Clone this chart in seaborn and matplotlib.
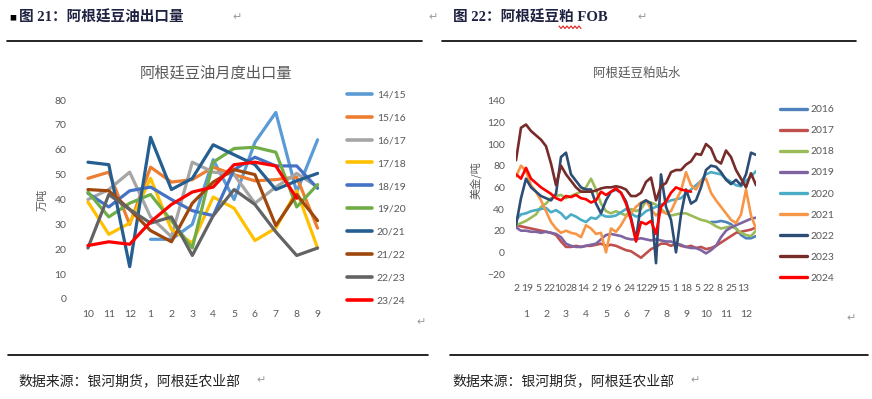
import numpy as np
import pandas as pd
import matplotlib
matplotlib.use("Agg")
import matplotlib.pyplot as plt
import seaborn as sns
from matplotlib.lines import Line2D

# ---------------- data: left chart (monthly export volume, 万吨) ----------------
months_left = ["10", "11", "12", "1", "2", "3", "4", "5", "6", "7", "8", "9"]
nan = np.nan
s1415 = [nan, nan, nan, 24, 24, 30, 56, 40, 63, 75, 43, 64]
s1516 = [48.5, 51, 30, 53, 47, 48, 53, 50, 47.5, 48, 49, 28.5]
s1617 = [40, 44, 51, 33, 25, 55, 51, 50, 38.5, 45, 50.5, 45]
s1718 = [39, 26, 30.5, 48.5, 28, 22.5, 41, 36.5, 23.5, 28.5, 43.5, 20.5]
s1819 = [42.5, 37, 43.5, 45, 40, 35.5, 33.5, 52, 57, 53.5, 53.5, 44.5]
s1920 = [43, 33, 38.5, 42, 31.5, 20.5, 55, 60.5, 61, 59, 37, 46]
s2021 = [55, 54, 13, 65, 44, 48.5, 62, 58, 54, 44, 47.5, 50.5]
s2122 = [44, 43.5, 36, 27.5, 23, 38.5, 47, 52, 50, 29.5, 42, 31.5]
s2223 = [20.5, 42, 36, 30.5, 33, 17.5, 33.5, 44, 38, 27, 17.5, 20.5]
s2324 = [21.5, 23, 22, 31, 38, 43, 45, 54, 55, 53.5, 40.5, nan]
seasons = ["14/15", "15/16", "16/17", "17/18", "18/19", "19/20", "20/21", "21/22", "22/23", "23/24"]
left_values = [s1415, s1516, s1617, s1718, s1819, s1920, s2021, s2122, s2223, s2324]
left_colors = ["#5B9BD5", "#ED7D31", "#A5A5A5", "#FFC000", "#4472C4",
               "#70AD47", "#255E91", "#9E480E", "#636363", "#FF0000"]

# ---------------- data: right chart (soymeal FOB premium, 美金/吨) ----------------
# sample points every quarter month through the year (0 = Jan 2, 12 = Dec 31)
pos_right = np.arange(49) / 4.0
N = None
y2016 = [N] * 39 + [28, 28, 29, 28, 26, 22, 16, 13, 13, 15]
y2017 = [25, 24, 23, 22, 21, 20, 19, 18, 16, 10, 5, 5, 6, 5, 6, 6, 7, 8, 6, 7, 6, 4, 2, 1, -2,
         -5, -1, 3, 5, 8, 8, 6, 8, 6, 5, 6, 4, 5, 3, 4, 6, 9, 12, 15, 18, 19, 20, 21, 23]
y2018 = [25, 27, 29, 32, 35, 42, 45, 50, 52, 53, 50, 52, 54, 56, 60, 68, 58, 45, 38, 36, 38, 36, 34, 40, 38,
         40, 47, 46, 44, 40, 36, 34, 35, 36, 36, 34, 32, 30, 29, 27, 24, 22, 23, 24, 22, 18, 16, 15, 20]
y2019 = [23, 20, 20, 19, 19, 18, 19, 18, 17, 14, 8, 6, 5, 5, 6, 7, 8, 12, 16, 17, 16, 15, 13, 12, 12,
         13, 12, 11, 12, 11, 10, 10, 8, 7, 5, 4, 4, 2, -1, 2, 6, 14, 20, 23, 25, 27, 29, 31, 32]
y2020 = [30, 35, 36, 38, 39, 40, 41, 37, 39, 36, 31, 35, 33, 30, 28, 32, 31, 35, 33, 33, 34, 37, 40, 36, 33,
         34, 38, 40, 42, 44, 46, 48, 49, 50, 54, 58, 62, 66, 72, 74, 73, 72, 68, 65, 62, 61, 66, 70, 75]
y2021 = [70, 80, 75, 62, 56, 48, 38, 28, 22, 18, 20, 18, 17, 14, 25, 22, 17, 18, 0, 22, 19, 25, 33, 36, 42,
         46, 48, 40, 34, 38, 36, 38, 48, 57, 74, 62, 58, 66, 68, 55, 48, 42, 36, 30, 27, 35, 58, 34, 22]
y2022 = [25, 50, 68, 60, 56, 52, 50, 48, 54, 88, 92, 72, 66, 60, 58, 58, 45, 36, 48, 56, 58, 55, 47, 32, 12,
         45, 48, 45, -10, 72, 42, 30, 0, 35, 58, 45, 48, 60, 76, 80, 79, 74, 67, 63, 67, 62, 72, 92, 90]
y2023 = [85, 115, 118, 112, 108, 104, 98, 82, 62, 80, 72, 66, 60, 56, 56, 56, 57, 59, 60, 60, 61, 60, 58, 52, 52,
         55, 65, 69, 48, 61, 64, 74, 76, 76, 81, 84, 91, 90, 100, 96, 85, 82, 94, 88, 76, 68, 60, 73, 62]
y2024 = [72, 68, 78, 68, 64, 60, 57, 54, 50, 48, 52, 51, 53, 50, 49, 46, 48, 56, 53, 56, 59, 55, 45, 30, 10,
         28, 26, 29, 17, 42, 47, 55, 60, 58, 57, 56] + [N] * 13
years = ["2016", "2017", "2018", "2019", "2020", "2021", "2022", "2023", "2024"]
right_values = [y2016, y2017, y2018, y2019, y2020, y2021, y2022, y2023, y2024]
right_colors = ["#4F81BD", "#C0504D", "#9BBB59", "#8064A2", "#4BACC6",
                "#F79646", "#2C4D75", "#772C2A", "#FF0000"]
day_labels = ["01-02", "01-19", "02-05", "02-22", "03-10", "03-28", "04-14", "05-02", "05-19", "06-06",
              "06-24", "07-12", "07-29", "08-15", "09-01", "09-18", "10-05", "10-22", "11-08", "11-25", "12-13"]
month_labels = [str(m) for m in range(1, 13)]

# ---------------- style ----------------
sns.set_theme(style="white")
plt.rcParams["font.family"] = ["Lato", "Noto Sans CJK SC", "DejaVu Sans"]
GRAY = "#595959"
CJK = ["Noto Sans CJK SC", "DejaVu Sans"]
SERIF_CJK = ["Liberation Serif", "Noto Sans CJK SC", "DejaVu Sans"]

W, H = 872, 399
fig = plt.figure(figsize=(W / 100, H / 100), dpi=100)
fig.patch.set_facecolor("white")


def fx(x):
    return x / W


def fy(y):
    return 1 - y / H


# ---------------- left chart ----------------
axL = fig.add_axes([fx(77.5), fy(299), fx(250.5), 199 / H])
rows = []
for name, vals in zip(seasons, left_values):
    for i, v in enumerate(vals):
        if v is not None and not np.isnan(v):
            rows.append({"x": i, "v": v, "s": name})
dfL = pd.DataFrame(rows)
sns.lineplot(data=dfL, x="x", y="v", hue="s", hue_order=seasons,
             palette=dict(zip(seasons, left_colors)), linewidth=2.3,
             sort=False, estimator=None, legend=False, ax=axL)
axL.set_xlim(-0.5, 11.5)
axL.set_ylim(0, 80)
axL.set_xticks(range(12), months_left)
axL.set_yticks(range(0, 81, 10))
axL.tick_params(length=0, labelsize=7.5, labelcolor=GRAY)
axL.tick_params(axis="y", pad=8)
axL.tick_params(axis="x", pad=8)
axL.set_xlabel("")
axL.set_ylabel("")
for sp in axL.spines.values():
    sp.set_visible(False)
axL.set_facecolor("none")
fig.text(fx(216), fy(73), "阿根廷豆油月度出口量", ha="center", va="center",
         fontsize=11, color=GRAY, family=CJK)
fig.text(fx(43), fy(200), "万吨", ha="center", va="center", rotation=90,
         fontsize=8, color=GRAY, family=CJK)
hL = [Line2D([], [], color=c, lw=2.6) for c in left_colors]
legL = axL.legend(hL, seasons, loc="upper left", bbox_to_anchor=(fx(347), fy(90)),
                  bbox_transform=fig.transFigure, frameon=False, borderpad=0, borderaxespad=0,
                  handlelength=2.4, handletextpad=0.45, labelspacing=1.31, fontsize=7.5,
                  labelcolor=GRAY)

# ---------------- right chart ----------------
axR = fig.add_axes([fx(516), fy(274), fx(240), 173.3 / H])
rows = []
for name, vals in zip(years, right_values):
    for t, v in zip(pos_right, vals):
        if v is not None:
            rows.append({"t": t, "v": v, "y": name})
dfR = pd.DataFrame(rows)
sns.lineplot(data=dfR, x="t", y="v", hue="y", hue_order=years,
             palette=dict(zip(years, right_colors)), linewidth=1.9,
             sort=False, estimator=None, legend=False, ax=axR)
axR.set_xlim(0, 12)
axR.set_ylim(-20, 140)
day_pos = [(pd.Timestamp("2023-" + d).dayofyear - 2) / 365 * 12 for d in day_labels]
axR.set_xticks(day_pos, [str(int(d[3:])) for d in day_labels])
axR.set_yticks(range(-20, 141, 20))
axR.tick_params(length=0, labelsize=7.5, labelcolor=GRAY)
axR.tick_params(axis="y", pad=8)
axR.tick_params(axis="x", pad=7)
axR.set_xlabel("")
axR.set_ylabel("")
for sp in axR.spines.values():
    sp.set_visible(False)
axR.set_facecolor("none")
sec = axR.secondary_xaxis("bottom")
sec.set_xticks([m - 0.5 for m in range(1, 13)], month_labels)
sec.tick_params(length=0, labelsize=7.5, labelcolor=GRAY, pad=26)
for sp in sec.spines.values():
    sp.set_visible(False)
fig.text(fx(637), fy(73), "阿根廷豆粕贴水", ha="center", va="center",
         fontsize=9, color=GRAY, family=CJK)
fig.text(fx(476), fy(180), "美金/吨", ha="center", va="center", rotation=90,
         fontsize=8, color=GRAY, family=CJK)
hR = [Line2D([], [], color=c, lw=2.4) for c in right_colors]
legR = axR.legend(hR, years, loc="upper left", bbox_to_anchor=(fx(780), fy(105)),
                  bbox_transform=fig.transFigure, frameon=False, borderpad=0, borderaxespad=0,
                  handlelength=2.6, handletextpad=0.3, labelspacing=1.13, fontsize=7.5,
                  labelcolor=GRAY)

# ---------------- document decorations ----------------
HEAD = "#1E2240"
fig.text(fx(9), fy(18), "■", ha="left", va="center", fontsize=5, color="black", family=CJK)
fig.text(fx(19), fy(18), "图 21：阿根廷豆油出口量", ha="left", va="center",
         fontsize=10.5, fontweight="bold", color=HEAD, family=SERIF_CJK)
fig.text(fx(453), fy(18), "图 22：阿根廷豆粕 FOB", ha="left", va="center",
         fontsize=10.5, fontweight="bold", color=HEAD, family=SERIF_CJK)
for x, y in [(232, 17), (428, 17), (637, 17), (416, 322), (846, 318)]:
    fig.text(fx(x), fy(y), "↵", ha="left", va="center", fontsize=8, color="#9a9a9a",
             family=["DejaVu Sans"])
# spell-check wavy underline
zx = [559 + 2 * i for i in range(12)]
zy = [26 if i % 2 == 0 else 28.5 for i in range(12)]
fig.add_artist(Line2D([fx(v) for v in zx], [fy(v) for v in zy], color="#E02020", lw=0.8))
for x0, x1, y in [(7, 422, 41), (442, 856, 41), (8, 428, 355), (450, 868, 355)]:
    fig.add_artist(Line2D([fx(x0), fx(x1)], [fy(y), fy(y)], color="black", lw=1.2))
for x in (18, 452):
    fig.text(fx(x), fy(381), "数据来源：银河期货，阿根廷农业部", ha="left", va="center",
             fontsize=10, color="#222222", family=SERIF_CJK)
for x in (256, 690):
    fig.text(fx(x), fy(380), "↵", ha="left", va="center", fontsize=8, color="#9a9a9a",
             family=["DejaVu Sans"])

fig.savefig("out.png", dpi=100)
